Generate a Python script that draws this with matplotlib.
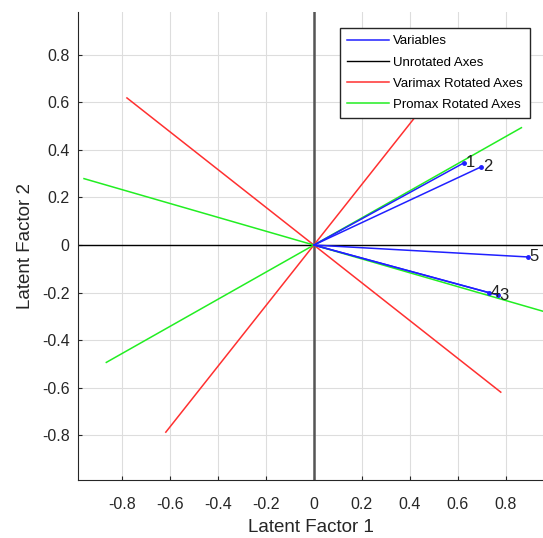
import numpy as np
import matplotlib
matplotlib.use("Agg")
import matplotlib.pyplot as plt

plt.rcParams["font.family"] = ["Liberation Sans", "DejaVu Sans"]

# variable loadings (end points of blue lines)
var_names = ["1", "2", "3", "4", "5"]
var_x = [0.625, 0.696, 0.767, 0.729, 0.892]
var_y = [0.345, 0.328, -0.210, -0.200, -0.050]

# rotated axes directions (drawn from -v to +v)
varimax_x = [0.779, 0.617]
varimax_y = [-0.618, 0.786]
promax_x = [0.958, 0.865]
promax_y = [-0.279, 0.493]

xticks = [-0.8, -0.6, -0.4, -0.2, 0, 0.2, 0.4, 0.6, 0.8]
yticks = [-0.8, -0.6, -0.4, -0.2, 0, 0.2, 0.4, 0.6, 0.8]

fig = plt.figure(figsize=(5.43, 5.38), dpi=100)
ax = fig.add_axes([78 / 543, 58 / 538, 1 - 78 / 543, 468 / 538])

# unrotated axes
ax.plot([-1, 1], [0, 0], color="black", lw=1.0, label="Unrotated Axes", zorder=2)
ax.plot([0, 0], [-1, 1], color="#555555", lw=1.8, zorder=2)

# varimax
for i in range(len(varimax_x)):
    ax.plot([-varimax_x[i], varimax_x[i]], [-varimax_y[i], varimax_y[i]],
            color="#ff3030", lw=1.1, label="Varimax Rotated Axes" if i == 0 else None,
            zorder=3)

# promax
for i in range(len(promax_x)):
    ax.plot([-promax_x[i], promax_x[i]], [-promax_y[i], promax_y[i]],
            color="#22ee22", lw=1.1, label="Promax Rotated Axes" if i == 0 else None,
            zorder=3)

# variables
for i in range(len(var_names)):
    ax.plot([0, var_x[i]], [0, var_y[i]], color="#2020ff", lw=1.1,
            label="Variables" if i == 0 else None, zorder=4)
    ax.plot(var_x[i], var_y[i], ".", color="#2020ff", ms=5, zorder=5)
    ax.text(var_x[i] + 0.008, var_y[i], var_names[i], fontsize=12,
            color="#222222", va="center", ha="left", zorder=6)

ax.set_xlim(-0.983, 0.955)
ax.set_ylim(-0.987, 0.979)
ax.set_xticks(xticks)
ax.set_yticks(yticks)
ax.set_xticklabels([f"{t:g}" for t in xticks])
ax.set_yticklabels([f"{t:g}" for t in yticks])
ax.tick_params(direction="in", length=3, labelsize=11.5, colors="#262626")
ax.tick_params(axis="x", pad=12)
ax.tick_params(axis="y", pad=6)
ax.grid(True, color="#dddddd", lw=0.8)
ax.set_axisbelow(True)
for s in ["top", "right"]:
    ax.spines[s].set_visible(False)
for s in ["left", "bottom"]:
    ax.spines[s].set_color("#262626")

ax.set_xlabel("Latent Factor 1", fontsize=13.5, color="#262626", labelpad=5)
ax.set_ylabel("Latent Factor 2", fontsize=13.5, color="#262626", labelpad=6)

handles, labels = ax.get_legend_handles_labels()
order = ["Variables", "Unrotated Axes", "Varimax Rotated Axes", "Promax Rotated Axes"]
hmap = dict(zip(labels, handles))
leg = ax.legend([hmap[k] for k in order], order, loc="upper left",
                bbox_to_anchor=(340 / 543, 1 - 28 / 538), bbox_transform=fig.transFigure,
                fontsize=9.5, handlelength=3.2, handletextpad=0.25, labelspacing=0.68,
                borderpad=0.55, borderaxespad=0, fancybox=False, framealpha=1)
leg.get_frame().set_edgecolor("#262626")
leg.get_frame().set_linewidth(1.0)

fig.savefig("out.png", dpi=100)
